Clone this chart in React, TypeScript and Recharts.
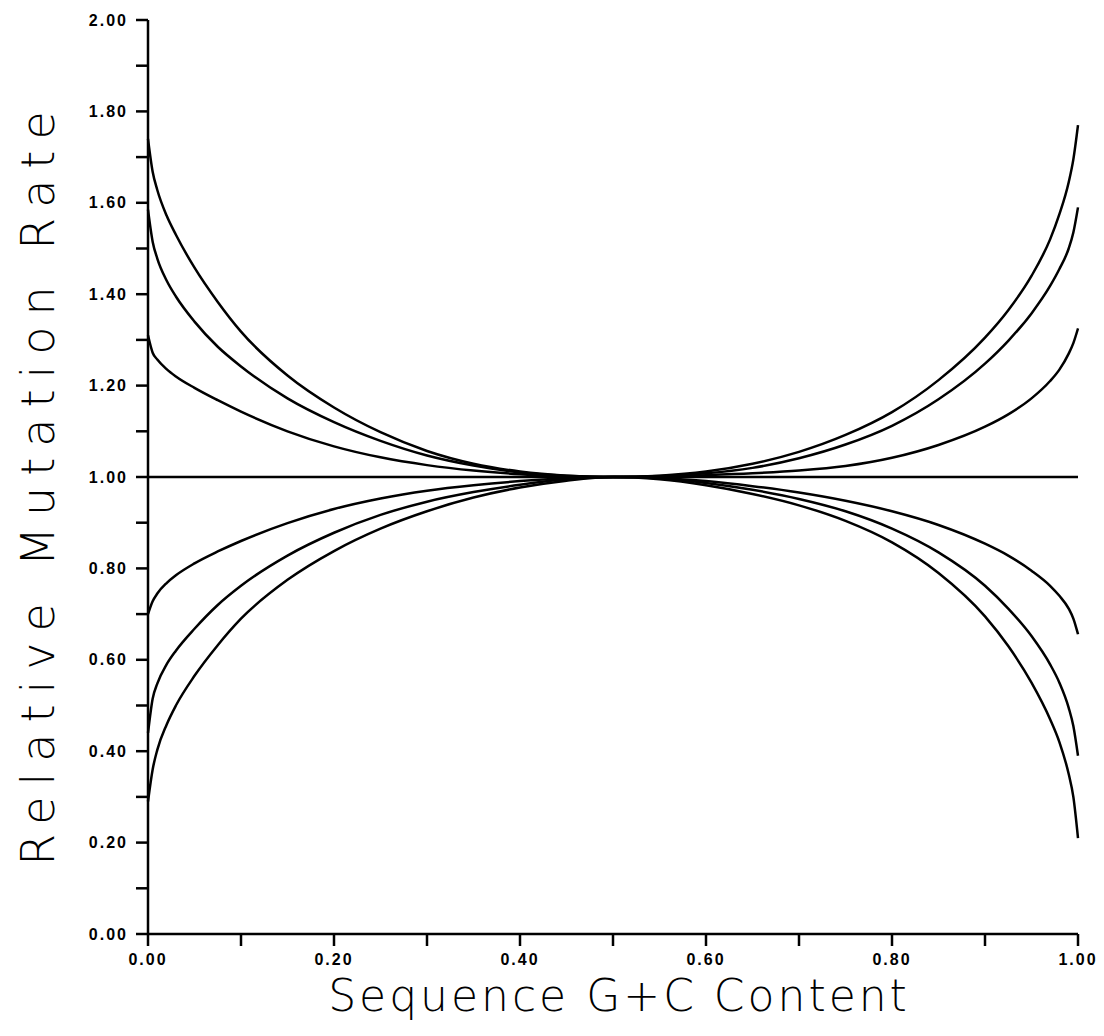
import React from "react";
import { LineChart, Line, XAxis, YAxis } from "recharts";

const gcContent = [0, 0.005, 0.01, 0.02, 0.03, 0.05, 0.075, 0.1, 0.15, 0.2, 0.25, 0.3, 0.35, 0.4, 0.45, 0.5, 0.55, 0.6, 0.65, 0.7, 0.75, 0.8, 0.85, 0.9, 0.925, 0.95, 0.97, 0.98, 0.99, 0.995, 1.0];

const upper1 = [1.74, 1.668, 1.628, 1.572, 1.53, 1.458, 1.383, 1.318, 1.222, 1.152, 1.098, 1.057, 1.029, 1.012, 1.003, 1.0, 1.003, 1.012, 1.029, 1.055, 1.092, 1.142, 1.212, 1.305, 1.365, 1.44, 1.52, 1.575, 1.645, 1.695, 1.77];
const upper2 = [1.585, 1.515, 1.478, 1.43, 1.395, 1.34, 1.285, 1.242, 1.172, 1.12, 1.079, 1.047, 1.025, 1.01, 1.003, 1.0, 1.002, 1.008, 1.02, 1.041, 1.071, 1.112, 1.17, 1.248, 1.298, 1.358, 1.418, 1.455, 1.5, 1.535, 1.59];
const upper3 = [1.31, 1.272, 1.257, 1.236, 1.22, 1.195, 1.168, 1.143, 1.1, 1.067, 1.043, 1.026, 1.014, 1.006, 1.001, 1.0, 1.001, 1.004, 1.008, 1.014, 1.024, 1.042, 1.07, 1.11, 1.137, 1.172, 1.21, 1.235, 1.27, 1.293, 1.325];
const neutral = [1.0, 1.0, 1.0, 1.0, 1.0, 1.0, 1.0, 1.0, 1.0, 1.0, 1.0, 1.0, 1.0, 1.0, 1.0, 1.0, 1.0, 1.0, 1.0, 1.0, 1.0, 1.0, 1.0, 1.0, 1.0, 1.0, 1.0, 1.0, 1.0, 1.0, 1.0];
const lower1 = [0.7, 0.728, 0.745, 0.768, 0.785, 0.811, 0.837, 0.86, 0.899, 0.93, 0.953, 0.97, 0.982, 0.991, 0.997, 1.0, 0.998, 0.991, 0.98, 0.966, 0.948, 0.925, 0.895, 0.854, 0.828, 0.795, 0.762, 0.74, 0.712, 0.69, 0.656];
const lower2 = [0.44, 0.515, 0.548, 0.59, 0.62, 0.668, 0.72, 0.762, 0.828, 0.878, 0.917, 0.946, 0.967, 0.983, 0.995, 1.0, 0.997, 0.987, 0.972, 0.952, 0.925, 0.887, 0.835, 0.762, 0.712, 0.652, 0.59, 0.55, 0.495, 0.455, 0.39];
const lower3 = [0.29, 0.36, 0.403, 0.458, 0.5, 0.565, 0.632, 0.69, 0.775, 0.838, 0.887, 0.925, 0.955, 0.977, 0.992, 1.0, 0.995, 0.982, 0.963, 0.938, 0.904, 0.857, 0.79, 0.695, 0.63, 0.55, 0.47, 0.42, 0.35, 0.3, 0.21];

const xTicks = [0, 0.1, 0.2, 0.3, 0.4, 0.5, 0.6, 0.7, 0.8, 0.9, 1.0];
const yTicks = [0, 0.1, 0.2, 0.3, 0.4, 0.5, 0.6, 0.7, 0.8, 0.9, 1.0, 1.1, 1.2, 1.3, 1.4, 1.5, 1.6, 1.7, 1.8, 1.9, 2.0];

const seriesKeys = ["upper1", "upper2", "upper3", "neutral", "lower1", "lower2", "lower3"];
const seriesValues = [upper1, upper2, upper3, neutral, lower1, lower2, lower3];

const data = gcContent.map((x, i) => {
  const row: Record<string, number> = { x };
  seriesKeys.forEach((k, j) => {
    row[k] = seriesValues[j][i];
  });
  return row;
});

const tickStyle = {
  fontFamily: "'Liberation Sans', Arial, sans-serif",
  fontSize: 16,
  fontWeight: 700,
  fill: "#000",
  letterSpacing: 2,
};

const fmt = (v: number) => (Math.round(v * 10) % 2 === 0 ? v.toFixed(2) : "");

const YLabel = (props: any) => {
  const vb = props.viewBox;
  const cx = vb.x + 30;
  const cy = vb.y + vb.height / 2 + 6;
  return (
    <text
      x={cx}
      y={cy}
      transform={`rotate(-90 ${cx} ${cy})`}
      textAnchor="middle"
      dominantBaseline="central"
      style={{ fontFamily: "'DejaVu Sans', sans-serif", fontWeight: 200, fontSize: 46, letterSpacing: 11, fill: "#000" }}
    >
      Relative Mutation Rate
    </text>
  );
};

const XLabel = (props: any) => {
  const vb = props.viewBox;
  const cx = vb.x + vb.width / 2 + 6;
  return (
    <text
      x={cx}
      y={vb.y + 77}
      textAnchor="middle"
      style={{ fontFamily: "'DejaVu Sans', sans-serif", fontWeight: 200, fontSize: 44, letterSpacing: 3, fill: "#000" }}
    >
      Sequence G+C Content
    </text>
  );
};

export default function App() {
  return (
    <div style={{ background: "#fff" }}>
      <LineChart width={1096} height={1020} data={data} margin={{ top: 12, right: 26, bottom: 0, left: 0 }}>
        <XAxis
          dataKey="x"
          type="number"
          domain={[0, 1]}
          ticks={xTicks}
          tickFormatter={fmt}
          interval={0}
          tickSize={12}
          tickMargin={8}
          height={94}
          axisLine={{ stroke: "#000", strokeWidth: 2.5 }}
          tickLine={{ stroke: "#000", strokeWidth: 2.5 }}
          tick={tickStyle}
          label={<XLabel />}
        />
        <YAxis
          type="number"
          domain={[0, 2]}
          ticks={yTicks}
          tickFormatter={fmt}
          interval={0}
          tickSize={12}
          tickMargin={8}
          width={140}
          axisLine={{ stroke: "#000", strokeWidth: 2.5 }}
          tickLine={{ stroke: "#000", strokeWidth: 2.5 }}
          tick={tickStyle}
          label={<YLabel />}
        />
        {seriesKeys.map((k) => (
          <Line
            key={k}
            dataKey={k}
            type="monotone"
            stroke="#000"
            strokeWidth={2.5}
            dot={false}
            isAnimationActive={false}
          />
        ))}
      </LineChart>
    </div>
  );
}
